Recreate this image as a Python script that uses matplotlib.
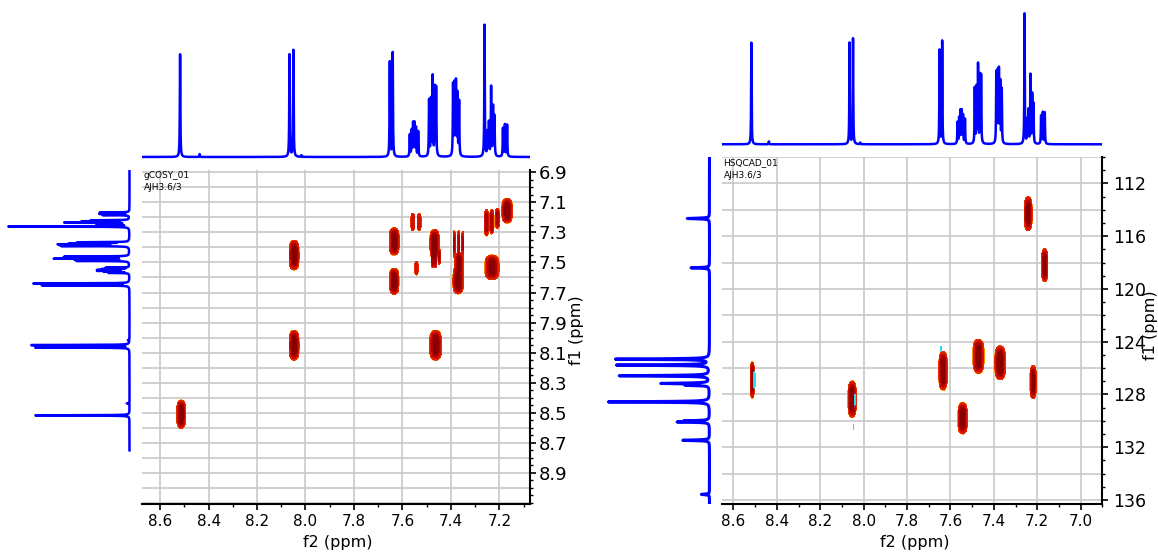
import numpy as np
import matplotlib
matplotlib.use('Agg')
import matplotlib.pyplot as plt

# 1H spectrum (used as projection on both plots), heights relative to CHCl3 line
h1_ppm = [8.5176, 8.437, 8.066, 8.050, 8.017, 7.652, 7.640,
          7.5695, 7.562, 7.556, 7.550, 7.544, 7.535,
          7.490, 7.482, 7.475, 7.466, 7.461,
          7.391, 7.385, 7.379, 7.373, 7.366,
          7.261, 7.249, 7.243, 7.234, 7.226, 7.220,
          7.185, 7.177, 7.168]
h1_int = [0.78, 0.022, 0.777, 0.81, 0.012, 0.72, 0.79,
          0.165, 0.195, 0.248, 0.248, 0.215, 0.19,
          0.425, 0.425, 0.60, 0.506, 0.506,
          0.537, 0.531, 0.549, 0.461, 0.413,
          1.0, 0.18, 0.253, 0.524, 0.372, 0.30,
          0.215, 0.241, 0.241]

# 13C spectrum (f1 projection of the HSQC)
c13_ppm = [114.66, 118.4, 125.32, 125.77, 126.58, 127.16, 127.3,
           128.56, 130.0, 130.08, 131.47, 135.57]
c13_int = [0.22, 0.183, 0.927, 0.916, 0.89, 0.469, 0.22,
           1.0, 0.22, 0.293, 0.264, 0.08]

# gCOSY cross peaks: f2, f1, half size in f2, half size in f1, intensity
cosy_f2 = [8.513, 8.047, 8.047, 7.463, 7.634, 7.634, 7.557, 7.531, 7.542,
           7.467, 7.475, 7.464, 7.448, 7.386, 7.368, 7.351, 7.367, 7.370,
           7.253, 7.231, 7.208, 7.168, 7.230]
cosy_f1 = [8.51, 7.451, 8.051, 8.051, 7.36, 7.625, 7.231, 7.231, 7.538,
           7.371, 7.48, 7.48, 7.465, 7.373, 7.373, 7.373, 7.505, 7.625,
           7.236, 7.229, 7.207, 7.156, 7.533]
cosy_d2 = [0.019, 0.021, 0.021, 0.025, 0.021, 0.020, 0.0085, 0.0085, 0.007,
           0.020, 0.006, 0.006, 0.005, 0.005, 0.005, 0.005, 0.019, 0.022,
           0.009, 0.009, 0.009, 0.022, 0.030]
cosy_d1 = [0.095, 0.10, 0.10, 0.10, 0.092, 0.088, 0.058, 0.058, 0.046,
           0.091, 0.055, 0.055, 0.05, 0.085, 0.085, 0.08, 0.068, 0.085,
           0.089, 0.082, 0.067, 0.083, 0.083]
cosy_int = [1.0, 1.0, 1.0, 1.0, 1.0, 1.0, 0.45, 0.45, 0.4,
            1.0, 0.7, 0.7, 0.6, 0.55, 0.6, 0.55, 0.9, 1.0,
            0.7, 0.7, 0.65, 1.0, 0.9]

# HSQC cross peaks
hsqc_f2 = [8.513, 8.053, 7.634, 7.544, 7.471, 7.371, 7.219, 7.242, 7.166]
hsqc_f1 = [126.9, 128.35, 126.2, 129.8, 125.1, 125.6, 127.06, 114.3, 118.2]
hsqc_d2 = [0.010, 0.0195, 0.020, 0.022, 0.026, 0.025, 0.015, 0.0186, 0.015]
hsqc_d1 = [1.39, 1.39, 1.48, 1.2, 1.3, 1.3, 1.27, 1.3, 1.27]
hsqc_int = [0.9, 1.0, 1.0, 1.0, 1.0, 1.0, 0.9, 0.9, 0.9]
# small negative (cyan) features
neg_f2 = [8.503, 8.041, 8.046, 7.643]
neg_f1 = [126.9, 128.4, 130.45, 124.55]
neg_d2 = [0.003, 0.003, 0.0015, 0.0015]
neg_d1 = [0.65, 0.4, 0.2, 0.2]

W, H = 1158.0, 553.0
fig = plt.figure(figsize=(11.58, 5.53), dpi=100)


def add_ax(x0, y0, x1, y1):
    # box given in pixels from the top left corner
    return fig.add_axes([x0 / W, 1 - y1 / H, (x1 - x0) / W, (y1 - y0) / H])


def lorentz(x, centers, heights, hw):
    y = np.zeros_like(x)
    for c, h in zip(centers, heights):
        y += h / (1 + ((x - c) / hw) ** 2)
    return y


LEV0 = 0.12


def blobs(X, Y, f2, f1, d2, d1, amp):
    Z = np.zeros_like(X)
    for a, b, u, v, h in zip(f2, f1, d2, d1, amp):
        c = np.log(h / LEV0)
        w2 = u / np.sqrt(c)
        w1 = v / c ** 0.25
        Z += h * np.exp(-((X - a) / w2) ** 2 - ((Y - b) / w1) ** 4)
    return Z


levels = [LEV0, 0.14, 0.25, 0.45, 0.7, 100]
fills = ['#ff8c00', '#e82800', '#d01200', '#b00000', '#880000']
blue = '#0000ff'
grid_c = '#c8c8c8'


def style_main(ax):
    for s in ['top', 'left']:
        ax.spines[s].set_visible(False)
    for s in ['bottom', 'right']:
        ax.spines[s].set_linewidth(1.5)
    ax.yaxis.tick_right()
    ax.tick_params(which='major', direction='out', length=4, width=1.2)
    ax.tick_params(which='minor', direction='out', length=2.5, width=1)
    ax.tick_params(axis='x', labelsize=11, pad=3)


# ---------------- gCOSY ----------------
x1_lim = (8.676, 7.073)
y1_lim = (9.107, 6.885)
ax1 = add_ax(141.7, 170, 530.1, 504)
ax1.set_xlim(x1_lim)
ax1.set_ylim(y1_lim)
style_main(ax1)
ax1.set_xticks(np.round(np.arange(7.2, 8.61, 0.2), 1))
ax1.set_xticks(np.round(np.arange(7.1, 8.7, 0.1), 1), minor=True)
ax1.set_yticks(np.round(np.arange(6.9, 9.0, 0.2), 1))
ax1.set_yticks(np.round(np.arange(6.9, 9.11, 0.05), 2), minor=True)
ax1.xaxis.set_major_formatter('{x:.1f}')
ax1.yaxis.set_major_formatter('{x:.1f}')
ax1.tick_params(axis='y', labelsize=13, pad=2)
for v in np.arange(7.2, 8.61, 0.2):
    ax1.axvline(v, color=grid_c, lw=1.2, zorder=0)
for v in np.arange(6.9, 9.11, 0.1):
    ax1.axhline(v, color=grid_c, lw=1.2, zorder=0)

gx = np.linspace(x1_lim[0], x1_lim[1], 900)
gy = np.linspace(y1_lim[1], y1_lim[0], 700)
GX, GY = np.meshgrid(gx, gy)
Z1 = blobs(GX, GY, cosy_f2, cosy_f1, cosy_d2, cosy_d1, cosy_int)
ax1.contourf(GX, GY, Z1, levels=levels, colors=fills, zorder=2)

fig.text(143.5 / W, 1 - 175.7 / H, 'gCOSY_01', fontsize=6.5, va='center')
fig.text(143.5 / W, 1 - 187.7 / H, 'AJH3.6/3', fontsize=6.5, va='center')
fig.text(338 / W, 1 - 542 / H, 'f2 (ppm)', fontsize=11.5, ha='center', va='center')
fig.text(576 / W, 1 - 330 / H, 'f1 (ppm)', fontsize=11.5, ha='center',
         va='center', rotation=90)

ppm_h = np.linspace(8.75, 6.85, 40000)
spec_h = lorentz(ppm_h, h1_ppm, h1_int, 0.0012)

ax1t = add_ax(141.7, 8, 530.1, 162)
ax1t.plot(ppm_h, spec_h, color=blue, lw=1.8)
ax1t.set_xlim(x1_lim)
ax1t.set_ylim(-0.038, 1.131)
ax1t.axis('off')

ax1s = add_ax(2, 170, 135, 504)
ax1s.plot(spec_h, ppm_h, color=blue, lw=1.8)
ax1s.set_xlim(1.057, -0.0456)
ax1s.set_ylim(y1_lim)
ax1s.axis('off')

# ---------------- HSQC ----------------
x2_lim = (8.654, 6.903)
y2_lim = (136.3, 110.0)
ax2 = add_ax(721.7, 157, 1102.4, 504)
ax2.set_xlim(x2_lim)
ax2.set_ylim(y2_lim)
style_main(ax2)
ax2.set_xticks(np.round(np.arange(7.0, 8.61, 0.2), 1))
ax2.set_xticks(np.round(np.arange(6.9, 8.7, 0.1), 1), minor=True)
ax2.set_yticks(np.arange(112, 137, 4))
ax2.set_yticks(np.arange(110, 137, 1), minor=True)
ax2.xaxis.set_major_formatter('{x:.1f}')
ax2.tick_params(axis='y', labelsize=12.5, pad=4)
for v in np.arange(7.0, 8.61, 0.2):
    ax2.axvline(v, color=grid_c, lw=1.2, zorder=0)
for v in np.arange(110, 137, 2):
    ax2.axhline(v, color=grid_c, lw=1.2, zorder=0)

hx = np.linspace(x2_lim[0], x2_lim[1], 900)
hy = np.linspace(y2_lim[1], y2_lim[0], 700)
HX, HY = np.meshgrid(hx, hy)
Z2 = blobs(HX, HY, hsqc_f2, hsqc_f1, hsqc_d2, hsqc_d1, hsqc_int)
ax2.contourf(HX, HY, Z2, levels=levels, colors=fills, zorder=2)
Zn = blobs(HX, HY, neg_f2, neg_f1, neg_d2, neg_d1, [0.6] * len(neg_f2))
ax2.contourf(HX, HY, Zn, levels=[LEV0, 100], colors=['#3cd2f0'], zorder=3)

fig.text(723.5 / W, 1 - 163 / H, 'HSQCAD_01', fontsize=6.5, va='center')
fig.text(723.5 / W, 1 - 175 / H, 'AJH3.6/3', fontsize=6.5, va='center')
fig.text(914.8 / W, 1 - 542 / H, 'f2 (ppm)', fontsize=11.5, ha='center', va='center')
fig.text(1151 / W, 1 - 325 / H, 'f1 (ppm)', fontsize=11.5, ha='center',
         va='center', rotation=90)

ax2t = add_ax(721.7, 2, 1102.4, 150)
ax2t.plot(ppm_h, spec_h, color=blue, lw=1.8)
ax2t.set_xlim(x2_lim)
ax2t.set_ylim(-0.0437, 1.092)
ax2t.axis('off')

ppm_c = np.linspace(109.5, 136.5, 30000)
spec_c = lorentz(ppm_c, c13_ppm, c13_int, 0.03)
ax2s = add_ax(600, 157, 715, 504)
ax2s.plot(spec_c, ppm_c, color=blue, lw=2.2)
ax2s.set_xlim(1.084, -0.0545)
ax2s.set_ylim(y2_lim)
ax2s.axis('off')

fig.savefig('out.png', dpi=100)
